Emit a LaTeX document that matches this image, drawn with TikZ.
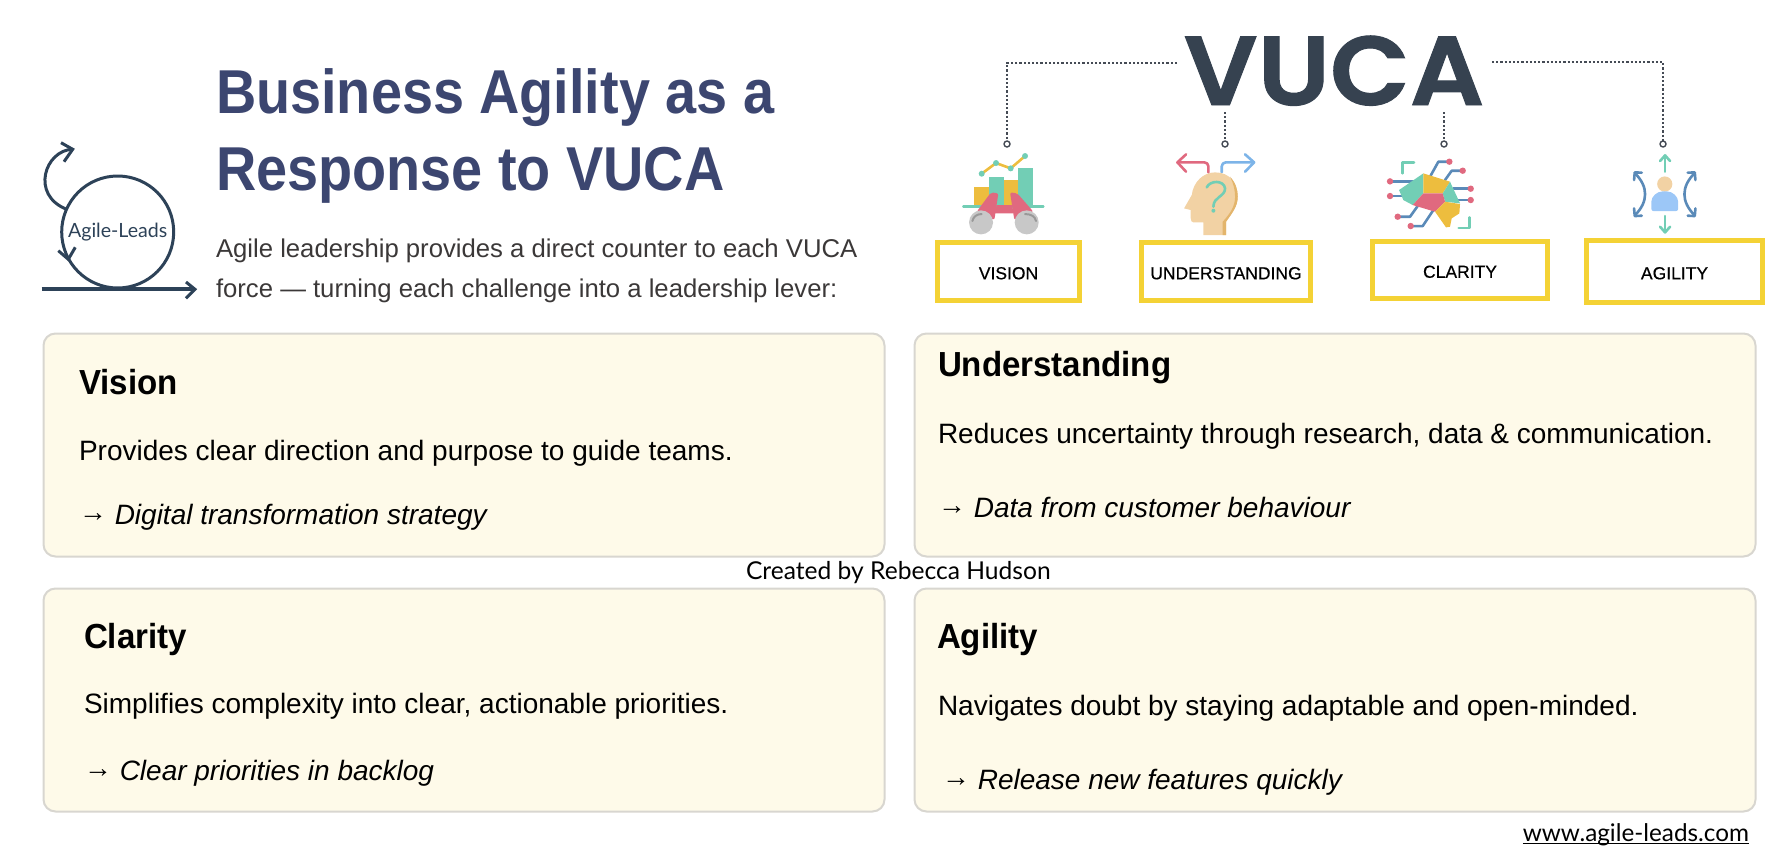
\documentclass[tikz,border=0pt]{standalone}
\usepackage{fontspec}
\setmainfont{Liberation Sans}
\newfontfamily\avefont{Lato}
\newfontfamily\vucafont[FakeBold=1,FakeStretch=1.06]{Poppins SemiBold}
\newfontfamily\titlefont[FakeStretch=0.9]{Liberation Sans}
\newfontfamily\headfont[FakeStretch=0.95]{Liberation Sans}
\newfontfamily\boxfont[FakeBold=0.5]{Liberation Sans}
\usepackage{tikz}
\definecolor{titleblue}{HTML}{3C4670}
\definecolor{subgrey}{HTML}{3B3838}
\definecolor{logoblue}{HTML}{2D4258}
\definecolor{vucagrey}{HTML}{364250}
\definecolor{dotgrey}{HTML}{454B55}
\definecolor{cardfill}{HTML}{FEFAE9}
\definecolor{cardline}{HTML}{D8D6D0}
\definecolor{boxyellow}{HTML}{F4D235}
\definecolor{icteal}{HTML}{72CEB5}
\definecolor{icyellow}{HTML}{EDBD3E}
\definecolor{icpink}{HTML}{E0697F}
\definecolor{icgrey}{HTML}{C8C8C8}
\definecolor{icskin}{HTML}{F2D2A4}
\definecolor{icskind}{HTML}{E3B56C}
\definecolor{icblue}{HTML}{7DB4E8}
\definecolor{icsteel}{HTML}{5A8AB8}
\definecolor{iclight}{HTML}{9CC7F7}

\begin{document}
\begin{tikzpicture}[x=0.5pt,y=-0.5pt]
			\tikzstyle{every node}=[inner sep=0,outer sep=0,text=black]
			\tikzstyle{card}=[draw=cardline,fill=cardfill,line width=1pt,rounded corners=6pt,minimum width=420.5pt,minimum height=111.5pt]
			\tikzstyle{cardhead}=[anchor=base west,font=\headfont\fontsize{17.4}{20}\selectfont\bfseries]
			\tikzstyle{cardtext}=[anchor=base west,font=\fontsize{14}{16}\selectfont]
			\tikzstyle{cardnote}=[anchor=base west,font=\fontsize{14}{16}\selectfont\itshape]
			\tikzstyle{maintitle}=[anchor=base west,text=titleblue,font=\titlefont\fontsize{31}{36}\selectfont\bfseries]
			\tikzstyle{subtitle}=[anchor=base west,text=subgrey,font=\fontsize{12.85}{15}\selectfont]
			\tikzstyle{yellowbox}=[draw=boxyellow,line width=2.5pt,text height=7.8pt,text depth=0pt,font=\boxfont\fontsize{8.75}{10}\selectfont]
			\tikzstyle{ring}=[circle,draw=dotgrey,fill=white,line width=.7pt,minimum size=3pt]
			\tikzstyle{dots}=[draw=dotgrey,line width=1.1pt,dash pattern=on 1.1pt off 1pt]
			\tikzstyle{logoline}=[draw=logoblue,line width=1.5pt]
			\tikzstyle{iconline}=[line width=1.3pt,line cap=round,line join=round]
			
			\useasboundingbox (0,0) rectangle (1787,862);
			
			\node (c1) [card] at (464,445) {};
			\node (c2) [card] at (1335,445) {};
			\node (c3) [card] at (464,700) {};
			\node (c4) [card] at (1335,700) {};
			
			\node (h1) [cardhead] at (79,394) {Vision};
			\node (b1) [cardtext] at (79,460) {Provides clear direction and purpose to guide teams.};
			\node (n1) [cardnote] at (79,524) {\raisebox{1.5pt}{\upshape\bfseries →} Digital transformation strategy};
			\node (h2) [cardhead] at (938,376) {Understanding};
			\node (b2) [cardtext] at (938,443) {Reduces uncertainty through research, data \& communication.};
			\node (n2) [cardnote] at (938,517) {\raisebox{1.5pt}{\upshape\bfseries →} Data from customer behaviour};
			\node (h3) [cardhead] at (84,648) {Clarity};
			\node (b3) [cardtext] at (84,713) {Simplifies complexity into clear, actionable priorities.};
			\node (n3) [cardnote] at (84,780) {\raisebox{1.5pt}{\upshape\bfseries →} Clear priorities in backlog};
			\node (h4) [cardhead] at (937,648) {Agility};
			\node (b4) [cardtext] at (938,715) {Navigates doubt by staying adaptable and open-minded.};
			\node (n4) [cardnote] at (942,789) {\raisebox{1.5pt}{\upshape\bfseries →} Release new features quickly};
			
			\node (made) [anchor=base west,font=\avefont\fontsize{12.3}{15}\selectfont] at (746,579) {Created by Rebecca Hudson};
			\node (web) [anchor=base east,font=\avefont\fontsize{12.15}{15}\selectfont] at (1749,841) {www.agile-leads.com};
			\draw [line width=.5pt] ([yshift=-1.2pt]web.base west) -- ([yshift=-1.2pt]web.base east);
			
			\node (t1) [maintitle] at (216,113) {Business Agility as a};
			\node (t2) [maintitle] at (216,190) {Response to VUCA};
			\node (s1) [subtitle] at (216,257) {Agile leadership provides a direct counter to each VUCA};
			\node (s2) [subtitle] at (216,297) {force — turning each challenge into a leadership lever:};
			
			\node (logo) [circle,logoline,minimum size=56pt,text=logoblue,font=\avefont\fontsize{9.8}{12}\selectfont] at (117.7,232) {Agile-Leads};
			\coordinate (l1) at (41.7,289.3);
			\coordinate (l2) at (195,289.3);
			\coordinate (l3) at (66.7,209.3);
			\coordinate (l4) at (72.7,149.3);
			\draw [draw=logoblue,line width=2pt] (l1) -- (l2);
			\draw [logoline] (186,282) -- (l2) -- (186,298.3);
			\draw [logoline] (l3) .. controls (30,195) and (45,150) .. (l4);
			\draw [logoline] (61,142.7) -- (l4) -- (64,161.7);
			\draw [logoline] (58.3,250.7) -- (68.3,259.3) -- (75.3,247.3);
			
			\node (vuca) [anchor=base,text=vucagrey,font=\vucafont\fontsize{49}{53}\selectfont] at (1334,105) {VUCA};
			\coordinate (v1) at (1177,63);
			\coordinate (v2) at (1225,112);
			\coordinate (v3) at (1444,112);
			\coordinate (v4) at (1492,62);
			
			\node (r1) [ring] at (1007,144) {};
			\node (r2) [ring] at (1225,144) {};
			\node (r3) [ring] at (1444,144) {};
			\node (r4) [ring] at (1663,144) {};
			
			\draw [dots] (v1) -| (r1);
			\draw [dots] (v2) -- (r2);
			\draw [dots] (v3) -- (r3);
			\draw [dots] (v4) -| (r4);
			
			\node (y1) [yellowbox,minimum width=71pt,minimum height=29pt] at (1008.5,271.5) {VISION};
			\node (y2) [yellowbox,minimum width=84.5pt,minimum height=29pt] at (1226,271.5) {UNDERSTANDING};
			\node (y3) [yellowbox,minimum width=87.5pt,minimum height=28.5pt] at (1460,270) {CLARITY};
			\node (y4) [yellowbox,minimum width=88pt,minimum height=31pt] at (1674.5,271.5) {AGILITY};
			
			\begin{scope}[shift={(920,0)},x=0.1667pt,y=-0.1667pt]
				\fill [icyellow] (163,560) rectangle (207,620);
				\fill [icteal] (207,530) rectangle (251,620);
				\fill [icyellow] (251,540) rectangle (295,620);
				\fill [icteal] (295,505) rectangle (338,620);
				\draw [icteal,iconline] (130,620) -- (370,620);
				\draw [icyellow,iconline] (185,521) -- (228,489) -- (272,505) -- (315,468);
				\foreach \dx/\dy in {185/521,228/489,272/505,315/468}
					\fill [icteal] (\dx,\dy) circle (1.5pt);
				\fill [icpink,rounded corners=1pt] (213,577) -- (235,580) -- (223,660) -- (170,635) -- cycle;
				\fill [icpink,rounded corners=1pt] (270,577) -- (292,580) -- (340,635) -- (283,660) -- cycle;
				\fill [icpink] (230,615) -- (275,615) -- (283,640) -- (223,640) -- cycle;
				\fill [icgrey] (183,667) circle (6pt);
				\fill [icgrey] (320,667) circle (6pt);
				\draw [gray!80,line width=1pt,line cap=round] (157,663) .. controls (160,650) and (170,642) .. (185,642);
				\draw [gray!80,line width=1pt,line cap=round] (348,663) .. controls (345,650) and (335,642) .. (315,642);
				
				\draw [icpink,iconline,rounded corners=2pt] (865,517) -- (865,487) -- (772,487);
				\draw [icpink,iconline] (798,463) -- (772,487) -- (798,515);
				\draw [icblue,iconline,rounded corners=2pt] (905,517) -- (905,487) -- (1000,487);
				\draw [icblue,iconline] (975,463) -- (1002,487) -- (975,515);
				\fill [icskin] (850,705) -- (850,667) -- (820,667) .. controls (815,667) and (812,662) .. (812,655) -- (812,630) -- (792,625) -- (815,585) .. controls (820,545) and (850,517) .. (885,517) .. controls (930,517) and (953,550) .. (953,590) .. controls (953,620) and (935,640) .. (918,665) -- (918,705) -- cycle;
				\fill [icskind] (930,530) .. controls (948,550) and (953,570) .. (953,590) .. controls (953,620) and (935,640) .. (918,665) -- (918,705) -- (908,705) -- (908,665) .. controls (930,640) and (945,620) .. (945,590) .. controls (945,570) and (940,550) .. (930,530) -- cycle;
				\draw [icteal,iconline] (860,562) .. controls (870,540) and (912,540) .. (915,565) .. controls (915,590) and (880,590) .. (880,620);
				\fill [icteal] (880,632) circle (1pt);
			\end{scope}
			
			\begin{scope}[shift={(1340,0)},x=0.1667pt,y=-0.1667pt]
				\draw [icsteel,iconline] (150,544) -- (220,544);
				\draw [icsteel,iconline] (150,588) -- (190,588);
				\draw [icsteel,iconline] (173,650) -- (210,650) -- (235,615);
				\draw [icsteel,iconline] (212,678) -- (248,678) -- (280,630);
				\draw [icsteel,iconline] (328,485) -- (295,485) -- (270,530);
				\draw [icsteel,iconline] (368,512) -- (335,512) -- (315,540);
				\draw [icsteel,iconline] (392,566) -- (340,566);
				\draw [icsteel,iconline] (392,600) -- (355,600);
				\foreach \dx/\dy in {150/544,150/588,173/650,212/678,328/485,368/512,392/566,392/600}
					\fill [icpink] (\dx,\dy) circle (1.6pt);
				\fill [icteal] (177,570) -- (250,520) -- (250,580) -- (218,615) -- (190,600) -- cycle;
				\fill [icyellow] (250,520) -- (330,545) -- (308,580) -- (250,580) -- cycle;
				\fill [icteal] (330,545) -- (360,610) -- (315,605) -- (308,580) -- cycle;
				\fill [icpink] (250,580) -- (308,580) -- (315,605) -- (285,635) -- (218,615) -- cycle;
				\fill [icyellow] (315,605) -- (360,612) -- (358,640) -- (335,655) -- (330,680) -- (318,682) -- (285,635) -- cycle;
				\draw [icteal,iconline] (222,488) -- (188,488) -- (188,520);
				\draw [icteal,iconline] (356,684) -- (388,684) -- (388,652);
				
				\fill [icskin] (974,552) circle (3.8pt);
				\fill [iclight,rounded corners=1pt] (934,633) -- (934,610) .. controls (934,590) and (950,574) .. (974,574) .. controls (998,574) and (1014,590) .. (1014,610) -- (1014,633) -- cycle;
				\draw [icteal,iconline] (975,515) -- (975,468);
				\draw [icteal,iconline] (960,483) -- (975,466) -- (990,483);
				\draw [icteal,iconline] (975,648) -- (975,695);
				\draw [icteal,iconline] (960,680) -- (975,697) -- (990,680);
				\draw [icsteel,iconline] (885,520) .. controls (925,560) and (925,605) .. (885,645);
				\draw [icsteel,iconline] (882,540) -- (884,517) -- (905,518);
				\draw [icsteel,iconline] (882,625) -- (884,648) -- (905,647);
				\draw [icsteel,iconline] (1063,520) .. controls (1023,560) and (1023,605) .. (1063,645);
				\draw [icsteel,iconline] (1066,540) -- (1064,517) -- (1043,518);
				\draw [icsteel,iconline] (1066,625) -- (1064,648) -- (1043,647);
			\end{scope}
			\end{tikzpicture}
\end{document}
